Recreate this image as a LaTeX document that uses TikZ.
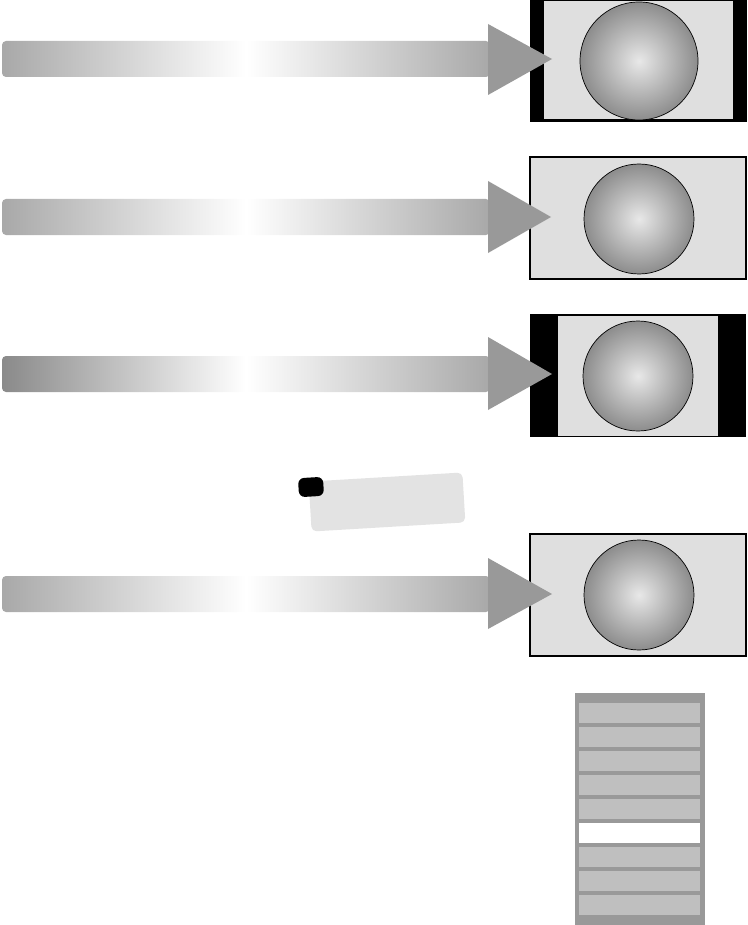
\documentclass[tikz,border=0pt]{standalone}
\usepackage{tikz}
\usetikzlibrary{calc}

\definecolor{screenbg}{gray}{0.875}
\definecolor{headgray}{gray}{0.6}
\definecolor{barend}{gray}{0.66}
\definecolor{bardark}{gray}{0.54}
\definecolor{menuframe}{gray}{0.6}
\definecolor{menuitem}{gray}{0.75}
\definecolor{notegray}{gray}{0.89}

\tikzset{
  screen/.style={draw=black,line width=1.2pt,fill=screenbg},
  ball/.style={draw=black,line width=0.7pt,shading=radial,inner color=gray!18,outer color=gray!90},
  arrowhead/.style={fill=headgray,draw=none},
  arrowbody/.style={rounded corners=4pt,draw=none,left color=#1,right color=barend,middle color=white},
  arrowbody/.default=barend,
  menubar/.style={fill=menuitem,draw=none}
}

\begin{document}
\begin{tikzpicture}[x=1pt,y=-1pt]
\useasboundingbox (0,0) rectangle (747,925);

% screens
\fill[black] (530,0) rectangle (747,122);
\fill[screenbg] (544,1.5) rectangle (733,119);
\draw[ball] (639,61) circle (59);

\draw[screen] (530,157) rectangle (746,279);
\draw[ball] (639,219) circle (55);

\fill[black] (530,314) rectangle (746,437);
\fill[screenbg] (558,316) rectangle (718,436);
\draw[ball] (638,376) circle (55);

\draw[screen] (530,534) rectangle (746,656);
\draw[ball] (639,595) circle (55);

% arrows
\draw[arrowbody] (2,41) rectangle (490,77);
\fill[arrowhead] (488,24) -- (552,59) -- (488,95) -- cycle;

\draw[arrowbody] (2,199) rectangle (490,235);
\fill[arrowhead] (488,181) -- (551,217) -- (488,253) -- cycle;

\draw[arrowbody=bardark] (2,356) rectangle (490,392);
\fill[arrowhead] (488,337) -- (552,374) -- (488,410) -- cycle;

\draw[arrowbody] (2,576) rectangle (490,612);
\fill[arrowhead] (488,558) -- (552,594) -- (488,629) -- cycle;

% note
\node[rotate=3.4,fill=notegray,rounded corners=5pt,minimum width=154pt,minimum height=50pt,inner sep=0pt] (note) at (387,502) {};
\node[rotate=3.4,fill=black,rounded corners=6pt,minimum width=25pt,minimum height=19pt,inner sep=0pt] (dot) at (311,487) {};

% menu
\fill[menuframe] (575,693) rectangle (705,925);
\foreach \i in {0,...,8}
  \fill[menubar] (579,703+24*\i) rectangle (700,723+24*\i);
\fill[white] (579,823) rectangle (700,843);
\end{tikzpicture}
\end{document}
